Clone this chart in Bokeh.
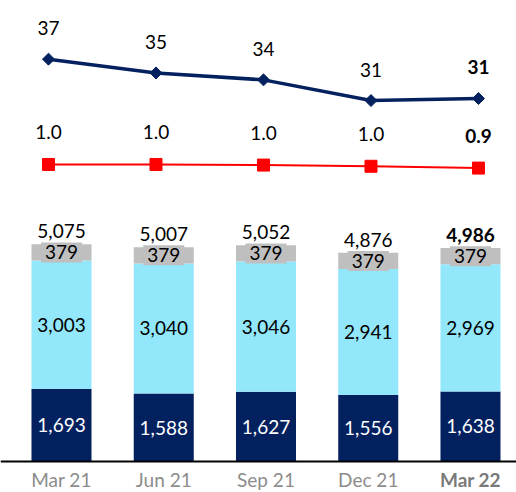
import numpy as np
from bokeh.plotting import figure
from bokeh.models import ColumnDataSource, Range1d, Span
from bokeh.core.properties import value
from bokeh.embed import file_html
from bokeh.resources import INLINE

# ---- data ----
categories = ["Mar 21", "Jun 21", "Sep 21", "Dec 21", "Mar 22"]
seg_bottom = [1693, 1588, 1627, 1556, 1638]
seg_middle = [3003, 3040, 3046, 2941, 2969]
seg_top = [379, 379, 379, 379, 379]
line_navy = [37.0, 35.0, 34.0, 31.0, 31.3]
line_red = [1.00, 1.00, 0.99, 0.97, 0.94]

NAVY = "#04215F"
LIGHT = "#92E7FB"
GRAY = "#BFBFBF"
RED = "#FF0000"
FONT = value("Lato")

n = len(categories)
xs = list(range(n))
totals = [a + b + c for a, b, c in zip(seg_bottom, seg_middle, seg_top)]
styles = ["normal"] * (n - 1) + ["bold"]

src = ColumnDataSource(dict(
    x=xs, cat=categories, b=seg_bottom, m=seg_middle, t=seg_top,
    total=totals,
    total_txt=[f"{v:,}" for v in totals],
    b_mid=[v / 2 for v in seg_bottom],
    b_txt=[f"{v:,}" for v in seg_bottom],
    m_mid=[b + m / 2 for b, m in zip(seg_bottom, seg_middle)],
    m_txt=[f"{v:,}" for v in seg_middle],
    t_mid=[b + m + t / 2 for b, m, t in zip(seg_bottom, seg_middle, seg_top)],
    t_txt=[f"{v:,}" for v in seg_top],
    zero=[0] * n,
    style=styles,
    axcol=["#8C8C8C"] * (n - 1) + ["#7A7A7A"],
    navy=line_navy, navy_txt=[f"{v:.0f}" for v in line_navy],
    red=line_red, red_txt=[f"{v:.1f}" for v in line_red],
))

p = figure(width=516, height=492, output_backend="svg", toolbar_location=None,
           x_range=Range1d(-0.5966, 4.45), y_range=Range1d(-724.3, 10771),
           x_axis_location=None, y_axis_location=None, min_border=0,
           outline_line_color=None)
p.grid.visible = False
p.extra_x_ranges = {"lx": Range1d(-0.4465, 4.3535)}
p.extra_y_ranges = {"ny": Range1d(-25.8, 45.5), "ry": Range1d(-4.467, 3.733)}

# stacked bars
p.vbar_stack(["b", "m", "t"], x="x", width=0.587, source=src,
             color=[NAVY, LIGHT, GRAY], line_color=None)

# baseline
p.add_layout(Span(location=0, dimension="width", line_color="black", line_width=2))

common = dict(source=src, text_font=FONT, text_font_size="19px", text_align="center")

p.text(x="x", y="b_mid", text="b_txt", text_color="white", text_baseline="middle", **common)
p.text(x="x", y="m_mid", text="m_txt", text_color="black", text_baseline="middle", **common)
p.text(x="x", y="t_mid", text="t_txt", text_color="black", text_baseline="middle",
       background_fill_color=GRAY, padding=(4, 3), **common)
p.text(x="x", y="total", text="total_txt", text_color="black", text_baseline="alphabetic",
       y_offset=-13, text_font_style="style", **common)

# category labels
p.text(x="x", y="zero", text="cat", text_color="axcol", text_baseline="middle",
       y_offset=18, text_font_style="style", **common)

# navy line
p.line(x="x", y="navy", source=src, x_range_name="lx", y_range_name="ny",
       line_color=NAVY, line_width=3.5)
p.scatter(x="x", y="navy", source=src, x_range_name="lx", y_range_name="ny",
          marker="square", angle=np.pi / 4, size=8.5, fill_color=NAVY, line_color=NAVY)
p.text(x="x", y="navy", text="navy_txt", x_range_name="lx", y_range_name="ny",
       text_color="black", text_baseline="middle", y_offset=-31,
       text_font_style="style", **common)

# red line
p.line(x="x", y="red", source=src, x_range_name="lx", y_range_name="ry",
       line_color=RED, line_width=2)
p.scatter(x="x", y="red", source=src, x_range_name="lx", y_range_name="ry",
          marker="square", size=12, fill_color=RED, line_color=RED)
p.text(x="x", y="red", text="red_txt", x_range_name="lx", y_range_name="ry",
       text_color="black", text_baseline="middle", y_offset=-32,
       text_font_style="style", **common)

open("out.html", "w").write(file_html(p, INLINE))
